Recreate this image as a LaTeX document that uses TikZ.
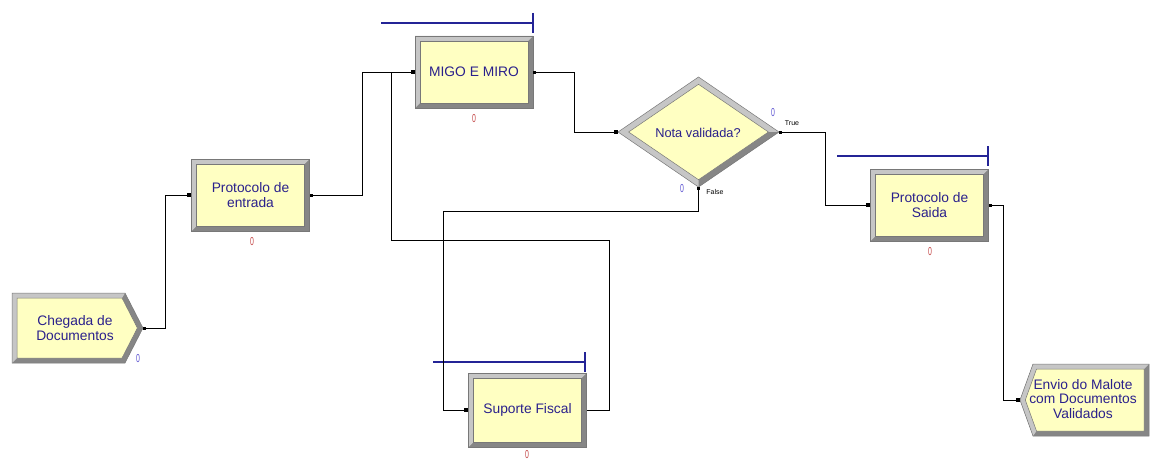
\documentclass[tikz,border=0pt]{standalone}
\usepackage{fontspec}
\usepackage{graphicx}
\setmainfont{Liberation Sans}
\usetikzlibrary{calc}

\definecolor{modfill}{RGB}{255,255,194}
\definecolor{bevhi}{RGB}{198,198,198}
\definecolor{bevlo}{RGB}{134,134,134}
\definecolor{bevedge}{RGB}{120,120,120}
\definecolor{modtext}{RGB}{42,32,140}
\definecolor{cntred}{RGB}{196,72,72}
\definecolor{cntblue}{RGB}{92,84,210}
\definecolor{queueblue}{RGB}{36,36,150}

% bevelled rectangle drawn inside a node's own outline
\newcommand\drawbevelbox{%
  \fill[bevlo] (path picture bounding box.south west) rectangle (path picture bounding box.north east);
  \fill[bevhi] (path picture bounding box.south west) -- (path picture bounding box.north west)
    -- (path picture bounding box.north east) -- ([shift={(-5pt,-5pt)}]path picture bounding box.north east)
    -- ([shift={(5pt,-5pt)}]path picture bounding box.north west) -- ([shift={(5pt,5pt)}]path picture bounding box.south west) -- cycle;
  \fill[modfill, draw=bevedge, line width=0.5pt] ([shift={(5pt,5pt)}]path picture bounding box.south west)
    rectangle ([shift={(-5pt,-5pt)}]path picture bounding box.north east);
}
% small square at the entry / exit of a connector
\newcommand\entrymark[1]{\fill[black] ([shift={(-4pt,-2pt)}]#1) rectangle ++(4pt,4pt);}
\newcommand\exitmark[1]{\fill[black] ([shift={(0pt,-1.5pt)}]#1) rectangle ++(3pt,3pt);}
% narrow counter digit
\newcommand\cnt[1]{\scalebox{0.6}[1]{#1}}

\begin{document}
\begin{tikzpicture}[x=1pt,y=-1pt,
  modfont/.style={font=\fontsize{13.8}{14.8}\selectfont},
  proc/.style={rectangle, minimum width=118pt, minimum height=72pt, inner sep=0pt,
    align=center, text=modtext, modfont, draw=bevedge, line width=0.5pt,
    path picture={\drawbevelbox}},
  plainmod/.style={rectangle, inner sep=0pt, align=center, text=modtext, modfont},
  counter/.style={inner sep=0pt, font=\fontsize{11.5}{11.5}\selectfont},
  branch/.style={inner sep=0pt, font=\fontsize{7}{7}\selectfont, text=black},
  conn/.style={draw=black, line width=0.9pt},
  queue/.style={draw=queueblue, line width=1.1pt}]

\useasboundingbox[fill=white] (0,0) rectangle (1150,460);

% ---------- Create module: Chegada de Documentos ----------
\fill[bevlo] (12,293) -- (125,293) -- (143,328) -- (125,363) -- (12,363) -- cycle;
\fill[bevhi] (12,363) -- (12,293) -- (125,293) -- (122,298) -- (17,298) -- (17,358) -- cycle;
\fill[modfill, draw=bevedge, line width=0.5pt] (17,298) -- (122,298) -- (137.4,328) -- (122,358) -- (17,358) -- cycle;
\draw[bevedge, line width=0.5pt] (12,293) -- (125,293) -- (143,328) -- (125,363) -- (12,363) -- cycle;
\node[plainmod, minimum width=131pt, minimum height=70pt] (chegada) at (77.5,328) {};
\node[plainmod] (chegadatxt) at (75,328) {Chegada de\\Documentos};
\node[counter, text=cntblue] (chegadacnt) at (138,359) {\cnt{0}};

% ---------- Process modules ----------
\node[proc] (entrada) at (250.5,195) {Protocolo de\\entrada};
\node[counter, text=cntred] (entradacnt) at (252,242) {\cnt{0}};

\node[proc] (migo) at (474,72) {MIGO E MIRO};
\node[counter, text=cntred] (migocnt) at (474,119) {\cnt{0}};

\node[proc] (saida) at (929.5,205) {Protocolo de\\Saida};
\node[counter, text=cntred] (saidacnt) at (930,252) {\cnt{0}};

\node[proc, minimum height=74pt] (suporte) at (527.5,410) {Suporte Fiscal};
\node[counter, text=cntred] (suportecnt) at (527,454.5) {\cnt{0}};

% resource queue bars
\coordinate (qm1) at (381,23); \coordinate (qm2) at (533,23);
\draw[queue] (qm1) -- (qm2) ($(qm2)+(0,-10)$) -- ($(qm2)+(0,10)$);
\coordinate (qs1) at (837,156); \coordinate (qs2) at (988,156);
\draw[queue] (qs1) -- (qs2) ($(qs2)+(0,-10)$) -- ($(qs2)+(0,10)$);
\coordinate (qf1) at (433,362); \coordinate (qf2) at (585,362);
\draw[queue] (qf1) -- (qf2) ($(qf2)+(0,-10)$) -- ($(qf2)+(0,10)$);

% ---------- Decide module: Nota validada? ----------
\fill[bevhi] (618,132) -- (698.5,77) -- (779,132) -- (698.5,187) -- cycle;
\fill[bevlo] (779,132) -- (698.5,187) -- (698.5,179.7) -- (768.4,132) -- cycle;
\fill[modfill, draw=bevedge, line width=0.5pt] (628.6,132) -- (698.5,84.3) -- (768.4,132) -- (698.5,179.7) -- cycle;
\draw[bevedge, line width=0.5pt] (618,132) -- (698.5,77) -- (779,132) -- (698.5,187) -- cycle;
\node[plainmod, minimum width=161pt, minimum height=110pt] (decide) at (698.5,132) {};
\node[plainmod, font=\fontsize{12.8}{14}\selectfont] (decidetxt) at (698,133) {Nota validada?};
\node[counter, text=cntblue] (truecnt) at (773,113) {\cnt{0}};
\node[branch] (truelbl) at (792,123) {True};
\node[counter, text=cntblue] (falsecnt) at (682,189) {\cnt{0}};
\node[branch] (falselbl) at (715,192) {False};

% ---------- Dispose module: Envio do Malote ----------
\fill[bevlo] (1020,400) -- (1033,364) -- (1149,364) -- (1149,436) -- (1033,436) -- cycle;
\fill[bevhi] (1020,400) -- (1033,364) -- (1149,364) -- (1144,369) -- (1036.5,369) -- (1025.3,400) -- (1036.5,431) -- (1033,436) -- cycle;
\fill[modfill, draw=bevedge, line width=0.5pt] (1025.3,400) -- (1036.5,369) -- (1144,369) -- (1144,431) -- (1036.5,431) -- cycle;
\draw[bevedge, line width=0.5pt] (1020,400) -- (1033,364) -- (1149,364) -- (1149,436) -- (1033,436) -- cycle;
\node[plainmod, minimum width=129pt, minimum height=72pt] (envio) at (1084.5,400) {};
\node[plainmod, font=\fontsize{13.8}{14.2}\selectfont] (enviotxt) at (1083,399) {Envio do Malote\\com Documentos\\Validados};

% ---------- Connectors ----------
\coordinate (fb) at (443,211);
\coordinate (sr) at (609,240);
\coordinate (ml) at (391,240);

\draw[conn] (chegada.east) -- ++(22,0) |- (entrada.west);
\draw[conn] (entrada.east) -- ++(53,0) |- (migo.west);
\draw[conn] (migo.east) -- ++(41,0) |- (decide.west);
\draw[conn] (decide.east) -- ++(46,0) |- (saida.west);
\draw[conn] (saida.east) -- ++(14.5,0) |- (envio.west);
\draw[conn] (decide.south) |- (fb) |- (suporte.west);
\draw[conn] (suporte.east) -| (sr) -- (ml) |- (migo.west);

\entrymark{entrada.west} \entrymark{migo.west} \entrymark{decide.west}
\entrymark{saida.west} \entrymark{envio.west} \entrymark{suporte.west}
\exitmark{chegada.east} \exitmark{entrada.east} \exitmark{migo.east}
\exitmark{decide.east} \exitmark{saida.east}
\fill[black] ([shift={(-1.5pt,-3pt)}]decide.south) rectangle ++(3pt,3pt);
\end{tikzpicture}
\end{document}
